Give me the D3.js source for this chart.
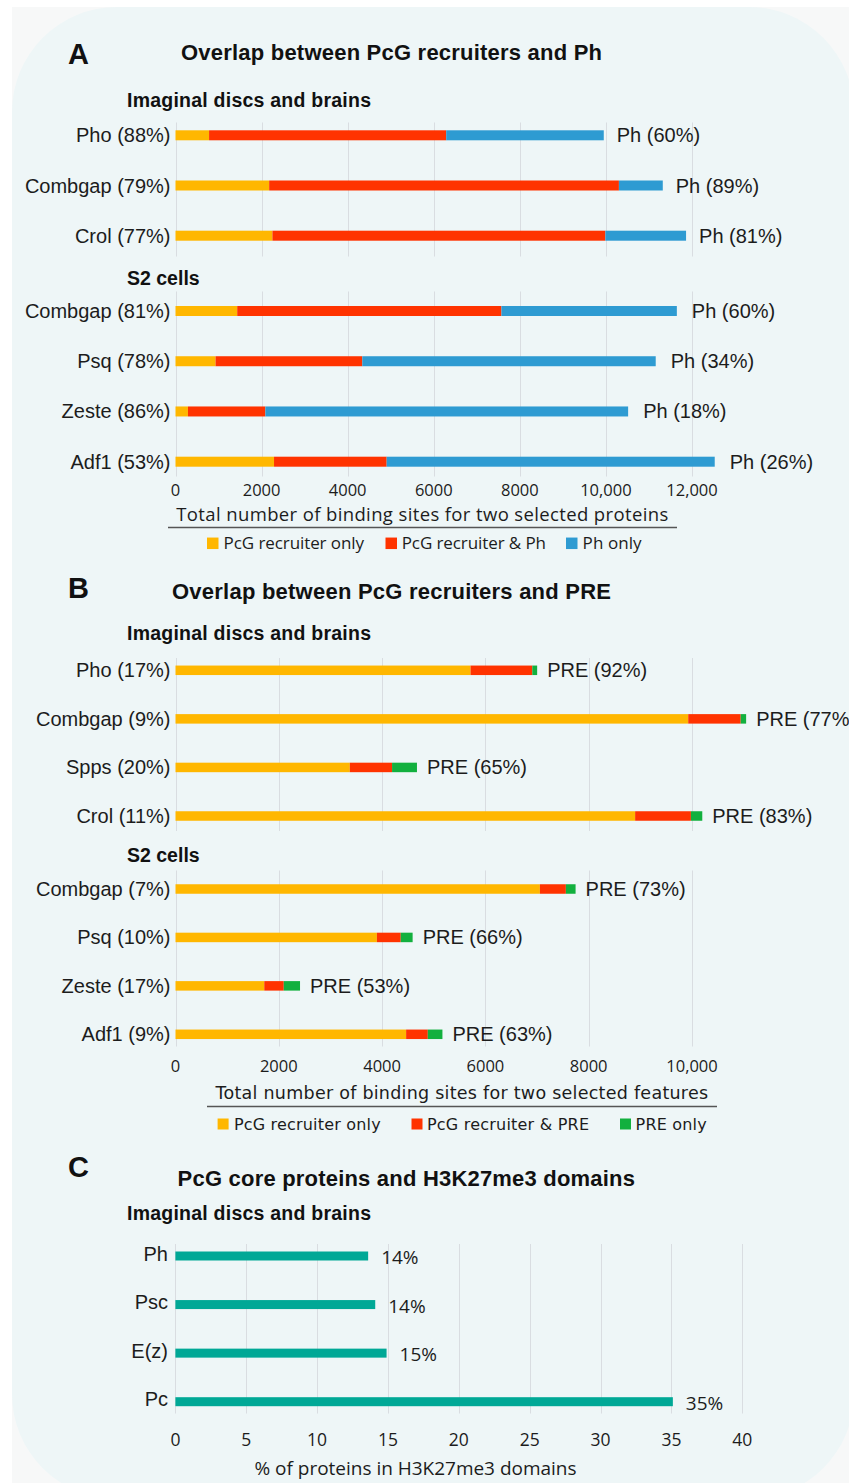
<!DOCTYPE html>
<html><head><meta charset="utf-8">
<script src="https://cdn.jsdelivr.net/npm/d3@7"></script>
<style>html,body{margin:0;padding:0;background:#fff;} svg{display:block;}</style>
</head><body><svg id="chart" width="849" height="1483"></svg>
<script>
// ---------------- DATA ----------------
const phDiscsCategories = ["Pho (88%)", "Combgap (79%)", "Crol (77%)"];
const phDiscsRecruiterOnly = [780, 2176, 2252];
const phDiscsShared = [5509, 8126, 7735];
const phDiscsPhOnly = [3661, 1019, 1875];
const phDiscsLabels = ["Ph (60%)", "Ph (89%)", "Ph (81%)"];

const phS2Categories = ["Combgap (81%)", "Psq (78%)", "Zeste (86%)", "Adf1 (53%)"];
const phS2RecruiterOnly = [1434, 931, 289, 2289];
const phS2Shared = [6138, 3409, 1799, 2617];
const phS2PhOnly = [4076, 6817, 8428, 7622];
const phS2Labels = ["Ph (60%)", "Ph (34%)", "Ph (18%)", "Ph (26%)"];

const preDiscsCategories = ["Pho (17%)", "Combgap (9%)", "Spps (20%)", "Crol (11%)"];
const preDiscsRecruiterOnly = [5713, 9927, 3375, 8899];
const preDiscsShared = [1195, 1016, 818, 1080];
const preDiscsPreOnly = [94, 105, 482, 220];
const preDiscsLabels = ["PRE (92%)", "PRE (77%)", "PRE (65%)", "PRE (83%)"];

const preS2Categories = ["Combgap (7%)", "Psq (10%)", "Zeste (17%)", "Adf1 (9%)"];
const preS2RecruiterOnly = [7055, 3899, 1719, 4465];
const preS2Shared = [503, 462, 377, 420];
const preS2PreOnly = [188, 230, 315, 283];
const preS2Labels = ["PRE (73%)", "PRE (66%)", "PRE (53%)", "PRE (63%)"];

const coreCategories = ["Ph", "Psc", "E(z)", "Pc"];
const coreValues = [13.6, 14.1, 14.9, 35.1];
const coreLabels = ["14%", "14%", "15%", "35%"];

const phTicks = [0, 2000, 4000, 6000, 8000, 10000, 12000];
const phTickLabels = ["0", "2000", "4000", "6000", "8000", "10,000", "12,000"];
const preTicks = [0, 2000, 4000, 6000, 8000, 10000];
const preTickLabels = ["0", "2000", "4000", "6000", "8000", "10,000"];
const coreTicks = [0, 5, 10, 15, 20, 25, 30, 35, 40];
const coreTickLabels = ["0", "5", "10", "15", "20", "25", "30", "35", "40"];

const phLegend = ["PcG recruiter only", "PcG recruiter & Ph", "Ph only"];
const preLegend = ["PcG recruiter only", "PcG recruiter & PRE", "PRE only"];

// ---------------- STYLE ----------------
const C_YEL = "#ffb700", C_RED = "#ff3300", C_BLUE = "#2e9bd2", C_GREEN = "#12b03e", C_TEAL = "#00a896";
const ARIAL = "'Liberation Sans', Arial, sans-serif";
const OPEN = "'Open Sans', 'Liberation Sans', sans-serif";
const DEJA = "'DejaVu Sans', Verdana, sans-serif";
const INK = "#1c1c1c";
const GRID = "#d9dde1";

const svg = d3.select("#chart");

// background
svg.append("rect").attr("width", 849).attr("height", 1483).attr("fill", "#ffffff");
svg.append("rect").attr("x", 12).attr("y", 7).attr("width", 837).attr("height", 1476).attr("fill", "#f7f8f8");
svg.append("rect").attr("x", 12).attr("y", 7).attr("width", 842).attr("height", 1492).attr("rx", 105).attr("fill", "#eef6f7");

function txt(x, y, s, o) {
  const t = svg.append("text").attr("x", x).attr("y", y).text(s)
    .attr("font-family", o.family || ARIAL).attr("font-size", o.size || 20)
    .attr("font-weight", o.weight || "normal").attr("fill", o.fill || INK)
    .attr("text-anchor", o.anchor || "start").attr("dy", "0.35em");
  if (o.len) t.attr("textLength", o.len).attr("lengthAdjust", "spacing");
  return t;
}

// x scales
const xPh = d3.scaleLinear().domain([0, 12000]).range([175.5, 692]);
const xPre = d3.scaleLinear().domain([0, 10000]).range([175.5, 692]);
const xCore = d3.scaleLinear().domain([0, 40]).range([175.4, 742.3]);

function grid(x, ticks, y0, y1) {
  svg.append("g").selectAll("line").data(ticks).join("line")
    .attr("x1", d => Math.round(x(d)) + 0.5).attr("x2", d => Math.round(x(d)) + 0.5)
    .attr("y1", y0).attr("y2", y1).attr("stroke", GRID).attr("stroke-width", 1);
}

function tickLabels(x, ticks, labels, y, size) {
  svg.append("g").selectAll("text").data(ticks).join("text")
    .attr("x", d => x(d)).attr("y", y).attr("dy", "0.35em")
    .attr("text-anchor", "middle").attr("font-family", OPEN).attr("font-size", size)
    .attr("fill", INK).text((d, i) => labels[i]);
}

function stackedGroup(cats, segA, segB, segC, colors, x, yFirst, yLast, labels, gap, barH) {
  const y = d3.scalePoint().domain(cats).range([yFirst, yLast]);
  const rows = cats.map((c, i) => ({ cat: c, a: segA[i], b: segB[i], c: segC[i] }));
  const series = d3.stack().keys(["a", "b", "c"])(rows);
  const g = svg.append("g");
  g.selectAll("g").data(series).join("g").attr("fill", (d, i) => colors[i])
    .selectAll("rect").data(d => d).join("rect")
    .attr("x", d => x(d[0])).attr("width", d => x(d[1]) - x(d[0]))
    .attr("y", d => y(d.data.cat) - barH / 2).attr("height", barH);
  g.append("g").selectAll("text").data(cats).join("text")
    .attr("x", 170.5).attr("y", d => y(d)).attr("dy", "0.35em").attr("text-anchor", "end")
    .attr("font-family", ARIAL).attr("font-size", 20).attr("fill", INK).text(d => d);
  g.append("g").selectAll("text").data(rows).join("text")
    .attr("x", d => x(d.a + d.b + d.c) + gap).attr("y", d => y(d.cat)).attr("dy", "0.35em")
    .attr("font-family", ARIAL).attr("font-size", 20).attr("fill", INK).text((d, i) => labels[i]);
}

function legend(items, colors, sqX, txtX, lens, yc, sq, family, size) {
  items.forEach((s, i) => {
    svg.append("rect").attr("x", sqX[i]).attr("y", yc - sq / 2).attr("width", sq).attr("height", sq).attr("fill", colors[i]);
    txt(txtX[i], yc, s, { family: family, size: size, len: lens[i] });
  });
}

// ================= PANEL A =================
txt(68, 54, "A", { size: 29, weight: "bold", fill: "#111" });
txt(181, 52, "Overlap between PcG recruiters and Ph", { size: 22, weight: "bold", fill: "#111", len: 421 });
txt(127, 100, "Imaginal discs and brains", { size: 19.5, weight: "bold", fill: "#111", len: 244 });
grid(xPh, phTicks, 122.5, 256.5);
stackedGroup(phDiscsCategories, phDiscsRecruiterOnly, phDiscsShared, phDiscsPhOnly,
  [C_YEL, C_RED, C_BLUE], xPh, 135.3, 235.7, phDiscsLabels, 13, 10);
txt(127, 278.5, "S2 cells", { size: 19.5, weight: "bold", fill: "#111" });
grid(xPh, phTicks, 291.5, 476.5);
stackedGroup(phS2Categories, phS2RecruiterOnly, phS2Shared, phS2PhOnly,
  [C_YEL, C_RED, C_BLUE], xPh, 311, 461.7, phS2Labels, 15, 10);
tickLabels(xPh, phTicks, phTickLabels, 490.7, 16.5);
txt(422.3, 514.3, "Total number of binding sites for two selected proteins", { family: OPEN, size: 18.5, anchor: "middle", len: 492 });
svg.append("line").attr("x1", 168).attr("x2", 677).attr("y1", 527.5).attr("y2", 527.5).attr("stroke", "#555").attr("stroke-width", 1.5);
legend(phLegend, [C_YEL, C_RED, C_BLUE], [207, 385.5, 566], [223.6, 401.7, 582.6], [140.4, 144.3, 59], 543.3, 11.5, OPEN, 17);

// ================= PANEL B =================
txt(68, 588, "B", { size: 29, weight: "bold", fill: "#111" });
txt(172, 591.7, "Overlap between PcG recruiters and PRE", { size: 22, weight: "bold", fill: "#111", len: 439 });
txt(127, 632.7, "Imaginal discs and brains", { size: 19.5, weight: "bold", fill: "#111", len: 244 });
grid(xPre, preTicks, 658, 831);
stackedGroup(preDiscsCategories, preDiscsRecruiterOnly, preDiscsShared, preDiscsPreOnly,
  [C_YEL, C_RED, C_GREEN], xPre, 670.3, 816, preDiscsLabels, 10, 9.5);
txt(127, 855, "S2 cells", { size: 19.5, weight: "bold", fill: "#111" });
grid(xPre, preTicks, 870.5, 1046.5);
stackedGroup(preS2Categories, preS2RecruiterOnly, preS2Shared, preS2PreOnly,
  [C_YEL, C_RED, C_GREEN], xPre, 889, 1034.3, preS2Labels, 10, 9.5);
tickLabels(xPre, preTicks, preTickLabels, 1066, 16.5);
txt(461.8, 1093.3, "Total number of binding sites for two selected features", { family: DEJA, size: 17.5, anchor: "middle", len: 492.5 });
svg.append("line").attr("x1", 207).attr("x2", 717).attr("y1", 1106.5).attr("y2", 1106.5).attr("stroke", "#555").attr("stroke-width", 1.5);
legend(preLegend, [C_YEL, C_RED, C_GREEN], [217.6, 411.5, 620], [233.9, 427, 635.6], [146.7, 162, 71], 1124, 11, DEJA, 16);

// ================= PANEL C =================
txt(68, 1166.7, "C", { size: 29, weight: "bold", fill: "#111" });
txt(177.6, 1178.3, "PcG core proteins and H3K27me3 domains", { size: 22, weight: "bold", fill: "#111", len: 457.4 });
txt(127, 1213.3, "Imaginal discs and brains", { size: 19.5, weight: "bold", fill: "#111", len: 244 });
grid(xCore, coreTicks, 1244, 1413.5);
const yCore = d3.scalePoint().domain(coreCategories).range([1256, 1401.7]);
const cg = svg.append("g");
cg.selectAll("rect").data(coreValues).join("rect")
  .attr("x", xCore(0)).attr("width", d => xCore(d) - xCore(0))
  .attr("y", (d, i) => yCore(coreCategories[i]) - 4.5).attr("height", 9).attr("fill", C_TEAL);
cg.append("g").selectAll("text").data(coreCategories).join("text")
  .attr("x", 168).attr("y", d => yCore(d) - 2.5).attr("dy", "0.35em").attr("text-anchor", "end")
  .attr("font-family", ARIAL).attr("font-size", 20).attr("fill", INK).text(d => d);
cg.append("g").selectAll("text").data(coreValues).join("text")
  .attr("x", d => xCore(d) + 13).attr("y", (d, i) => yCore(coreCategories[i]) + 1.5).attr("dy", "0.35em")
  .attr("font-family", OPEN).attr("font-size", 19).attr("fill", INK).text((d, i) => coreLabels[i]);
tickLabels(xCore, coreTicks, coreTickLabels, 1439.7, 17.5);
txt(415.5, 1468.3, "% of proteins in H3K27me3 domains", { family: OPEN, size: 19, anchor: "middle", len: 322 });
</script></body></html>
